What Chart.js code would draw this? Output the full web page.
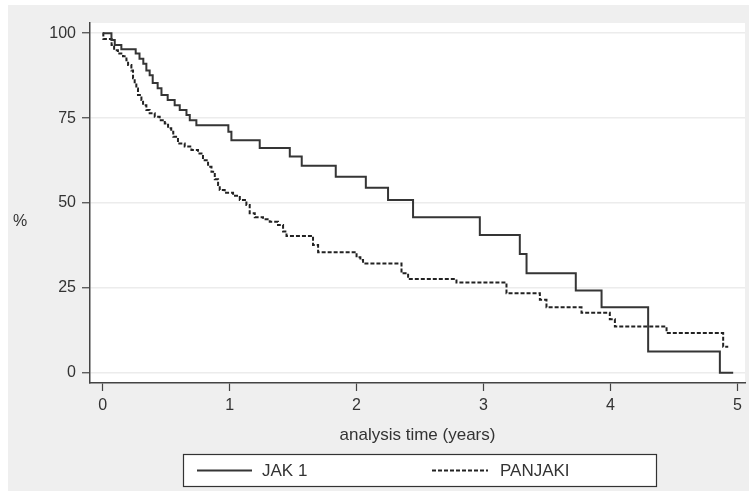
<!DOCTYPE html>
<html>
<head>
<meta charset="utf-8">
<script src="https://cdn.jsdelivr.net/npm/chart.js@4/dist/chart.umd.min.js"></script>
<style>
  html, body { margin: 0; padding: 0; background: #ffffff; }
  #wrap { position: relative; width: 749px; height: 491px; }
</style>
</head>
<body>
<div id="wrap"><canvas id="km" width="749" height="491"></canvas></div>
<script>
// Kaplan-Meier survival estimates (%), step times in years
const jak1Times = [0, 0.069, 0.095, 0.147, 0.26, 0.29, 0.32, 0.344, 0.37, 0.394, 0.433, 0.463, 0.512, 0.567, 0.607, 0.66, 0.686, 0.738, 0.99, 1.014, 1.237, 1.474, 1.568, 1.836, 2.073, 2.248, 2.445, 2.971, 3.286, 3.339, 3.727, 3.93, 4.297, 4.862, 4.967];
const jak1Surv  = [100, 98, 96.5, 95.3, 94, 92.5, 91, 89, 87.6, 85.3, 83.8, 81.8, 80.3, 78.8, 77.4, 75.9, 74.4, 72.9, 71, 68.5, 66.2, 63.7, 61, 57.7, 54.5, 50.9, 45.8, 40.6, 35, 29.3, 24.2, 19.3, 6.3, 0, 0];

const panjakiTimes = [0, 0.005, 0.07, 0.09, 0.12, 0.16, 0.187, 0.2, 0.226, 0.239, 0.252, 0.265, 0.278, 0.305, 0.318, 0.344, 0.37, 0.41, 0.449, 0.489, 0.515, 0.54, 0.556, 0.593, 0.646, 0.699, 0.751, 0.79, 0.83, 0.857, 0.883, 0.909, 0.922, 0.961, 1.027, 1.08, 1.132, 1.158, 1.198, 1.263, 1.316, 1.381, 1.421, 1.448, 1.657, 1.697, 2.0, 2.03, 2.051, 2.354, 2.406, 2.787, 3.181, 3.444, 3.496, 3.772, 3.995, 4.035, 4.442, 4.888, 4.928];
const panjakiSurv  = [100, 98.3, 96.5, 95, 94, 93.2, 92, 90.6, 89, 86.7, 85.2, 83.7, 81.8, 80.3, 78.8, 77.4, 76.4, 75.4, 74.4, 73.4, 72, 71, 69.5, 67.5, 66.6, 65.6, 64.6, 62.6, 60.7, 59.2, 57, 55.3, 53.8, 53, 52.1, 50.9, 49.4, 47, 45.8, 45.2, 44.5, 43.5, 41.6, 40.3, 37.6, 35.5, 34, 33.2, 32.2, 29.3, 27.6, 26.6, 23.4, 21.5, 19.3, 17.7, 15.8, 13.6, 11.7, 7.7, 7.7];

const groupNames = ['JAK 1', 'PANJAKI'];
const xTickValues = [0, 1, 2, 3, 4, 5];
const yTickValues = [0, 25, 50, 75, 100];

const xTitle = 'analysis time (years)';
const yTitle = '%';

const FONT = '"Liberation Sans", Arial, Helvetica, sans-serif';
const INK = '#333333';
const TEXT_SIZE = 16;

function toPoints(times, surv) {
  return times.map((t, i) => ({ x: t, y: surv[i] }));
}

// Stata-like frame: grey outer region, white plot region, % label and boxed legend
const framePlugin = {
  id: 'frame',
  beforeDraw(chart) {
    const { ctx, chartArea: a } = chart;
    ctx.save();
    ctx.fillStyle = '#ffffff';
    ctx.fillRect(0, 0, chart.width, chart.height);
    ctx.fillStyle = '#efefef';
    ctx.fillRect(8, 5, chart.width - 8, chart.height - 5);
    ctx.fillStyle = '#ffffff';
    ctx.fillRect(a.left, a.top, a.right - a.left, a.bottom - a.top);
    ctx.restore();
  },
  afterDraw(chart) {
    const { ctx } = chart;
    ctx.save();
    ctx.fillStyle = INK;
    ctx.font = TEXT_SIZE + 'px ' + FONT;
    ctx.textAlign = 'center';
    ctx.textBaseline = 'middle';
    ctx.fillText(yTitle, 20, 222);

    // legend box
    const bx = 183, by = 454, bw = 473, bh = 32;
    ctx.fillStyle = '#ffffff';
    ctx.fillRect(bx, by, bw, bh);
    ctx.strokeStyle = '#333333';
    ctx.lineWidth = 1.2;
    ctx.strokeRect(bx + 0.5, by + 0.5, bw, bh);

    const ly = by + bh / 2 + 0.5;
    const items = [
      { x0: 197, x1: 252, tx: 262, ds: chart.data.datasets[0] },
      { x0: 432, x1: 488, tx: 500, ds: chart.data.datasets[1] }
    ];
    items.forEach(it => {
      ctx.beginPath();
      ctx.setLineDash(it.ds.borderDash || []);
      ctx.strokeStyle = it.ds.borderColor;
      ctx.lineWidth = it.ds.borderWidth;
      ctx.moveTo(it.x0, ly);
      ctx.lineTo(it.x1, ly);
      ctx.stroke();
      ctx.setLineDash([]);
      ctx.fillStyle = INK;
      ctx.font = (TEXT_SIZE + 1) + 'px ' + FONT;
      ctx.textAlign = 'left';
      ctx.textBaseline = 'middle';
      ctx.fillText(it.ds.label, it.tx, ly + 1);
    });
    ctx.restore();
  }
};

new Chart(document.getElementById('km'), {
  type: 'line',
  data: {
    datasets: [
      {
        label: groupNames[0],
        data: toPoints(jak1Times, jak1Surv),
        borderColor: '#353535',
        borderWidth: 2,
        stepped: 'before',
        pointRadius: 0,
        fill: false
      },
      {
        label: groupNames[1],
        data: toPoints(panjakiTimes, panjakiSurv),
        borderColor: '#222222',
        borderWidth: 2,
        borderDash: [4, 2],
        stepped: 'before',
        pointRadius: 0,
        fill: false
      }
    ]
  },
  options: {
    responsive: false,
    animation: false,
    layout: { padding: { left: 0, top: 23, right: 4, bottom: 0 } },
    plugins: {
      legend: { display: false },
      tooltip: { enabled: false },
      title: { display: false }
    },
    scales: {
      x: {
        type: 'linear',
        min: -0.1,
        max: 5.06,
        afterFit(scale) { scale.height = 108; },
        afterBuildTicks(scale) { scale.ticks = xTickValues.map(v => ({ value: v })); },
        grid: { drawOnChartArea: false, tickLength: 8, tickColor: '#444444', tickWidth: 1.2 },
        border: { display: true, color: '#444444', width: 1.5 },
        ticks: { color: INK, font: { family: FONT, size: TEXT_SIZE }, padding: 5, maxRotation: 0 },
        title: { display: true, text: xTitle, color: INK, font: { family: FONT, size: TEXT_SIZE + 1 }, padding: { top: 0, bottom: 45 } }
      },
      y: {
        type: 'linear',
        min: -3,
        max: 103,
        afterFit(scale) { scale.width = 90; },
        afterBuildTicks(scale) { scale.ticks = yTickValues.map(v => ({ value: v })); },
        grid: { drawOnChartArea: true, color: '#ececec', lineWidth: 1.5, tickLength: 8, tickColor: '#444444', tickWidth: 1.2 },
        border: { display: true, color: '#444444', width: 1.5 },
        ticks: { color: INK, font: { family: FONT, size: TEXT_SIZE }, padding: 6 }
      }
    }
  },
  plugins: [framePlugin]
});
</script>
</body>
</html>
